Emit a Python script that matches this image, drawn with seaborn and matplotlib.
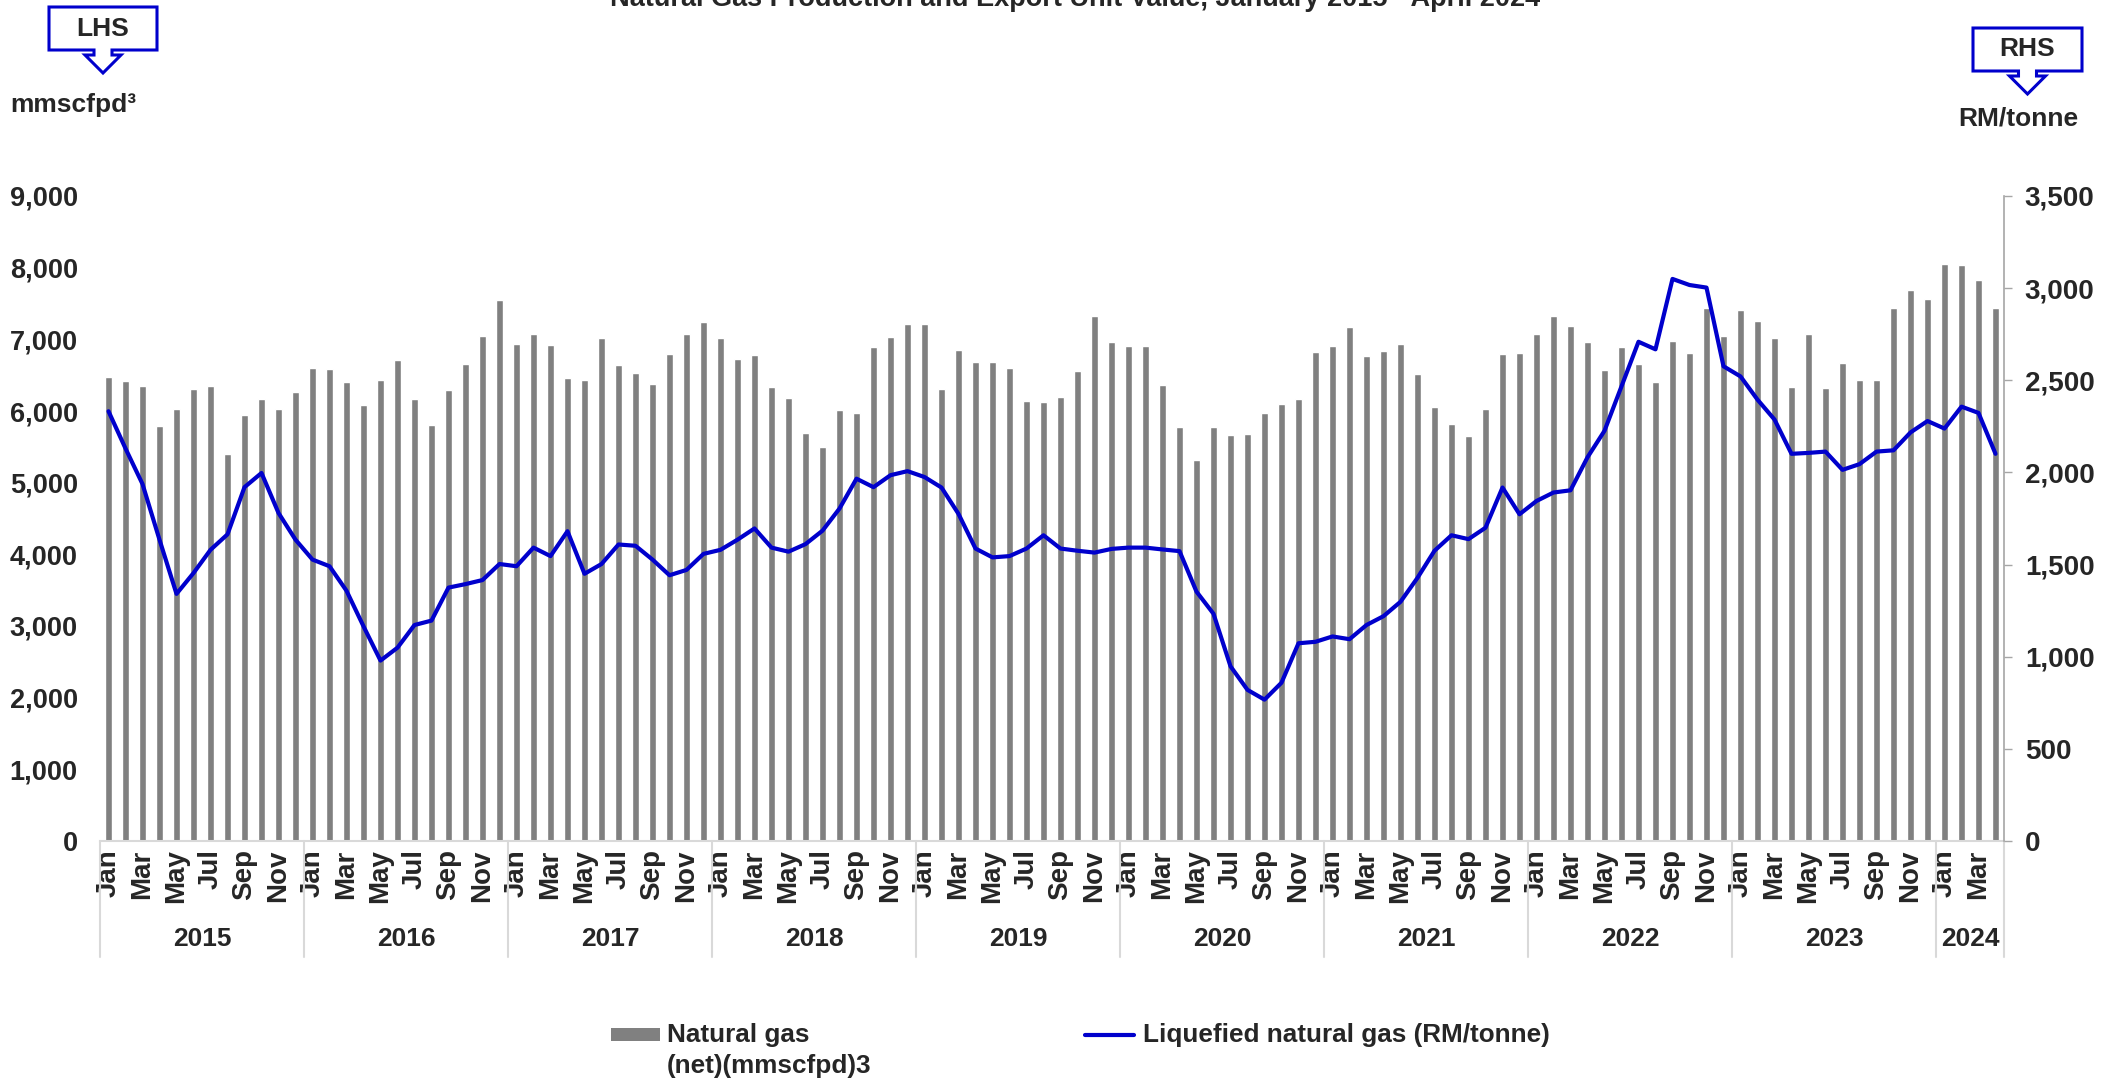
import numpy as np
import matplotlib
matplotlib.use('Agg')
import matplotlib.pyplot as plt
from matplotlib.patches import Polygon, Rectangle
from matplotlib.lines import Line2D
from matplotlib.ticker import FuncFormatter
import seaborn as sns

# ----------------------- Data ------------------------
years = ['2015', '2016', '2017', '2018', '2019', '2020', '2021', '2022', '2023', '2024']
month_names = ['Jan', 'Feb', 'Mar', 'Apr', 'May', 'Jun',
               'Jul', 'Aug', 'Sep', 'Oct', 'Nov', 'Dec']

# Natural gas (net), mmscfpd (LHS)
gas_2015 = [6480, 6414, 6346, 5794, 6024, 6309, 6352, 5397, 5949, 6166, 6030, 6266]
gas_2016 = [6600, 6582, 6402, 6079, 6433, 6712, 6172, 5806, 6290, 6662, 7047, 7550]
gas_2017 = [6929, 7078, 6917, 6464, 6433, 7022, 6644, 6526, 6371, 6793, 7072, 7246]
gas_2018 = [7022, 6731, 6780, 6334, 6179, 5689, 5502, 6011, 5974, 6892, 7029, 7215]
gas_2019 = [7215, 6309, 6849, 6681, 6687, 6600, 6141, 6123, 6197, 6563, 7320, 6966]
gas_2020 = [6905, 6905, 6365, 5775, 5310, 5775, 5670, 5676, 5974, 6104, 6172, 6818]
gas_2021 = [6905, 7171, 6774, 6842, 6929, 6514, 6061, 5819, 5658, 6024, 6793, 6811]
gas_2022 = [7072, 7320, 7184, 6960, 6576, 6898, 6650, 6402, 6973, 6811, 7432, 7047]
gas_2023 = [7407, 7258, 7022, 6334, 7072, 6315, 6675, 6427, 6427, 7444, 7686, 7568]
gas_2024 = [8046, 8040, 7829, 7444]

# Liquefied natural gas unit value, RM/tonne (RHS)
lng_2015 = [2332, 2130, 1937, 1635, 1341, 1454, 1580, 1664, 1920, 1997, 1780, 1635]
lng_2016 = [1527, 1491, 1358, 1165, 979, 1049, 1172, 1196, 1375, 1394, 1416, 1503]
lng_2017 = [1491, 1592, 1546, 1681, 1450, 1503, 1609, 1602, 1527, 1442, 1471, 1558]
lng_2018 = [1580, 1635, 1696, 1592, 1570, 1611, 1684, 1804, 1966, 1920, 1985, 2007]
lng_2019 = [1975, 1918, 1775, 1587, 1539, 1546, 1587, 1659, 1587, 1575, 1565, 1585]
lng_2020 = [1592, 1592, 1582, 1573, 1353, 1233, 948, 820, 767, 859, 1073, 1081]
lng_2021 = [1110, 1095, 1172, 1220, 1298, 1428, 1575, 1659, 1638, 1700, 1918, 1773]
lng_2022 = [1845, 1891, 1903, 2082, 2226, 2467, 2709, 2668, 3050, 3017, 3003, 2576]
lng_2023 = [2521, 2395, 2287, 2101, 2106, 2113, 2014, 2045, 2113, 2120, 2217, 2279]
lng_2024 = [2238, 2357, 2323, 2101]

gas = (gas_2015 + gas_2016 + gas_2017 + gas_2018 + gas_2019 + gas_2020
       + gas_2021 + gas_2022 + gas_2023 + gas_2024)
lng = (lng_2015 + lng_2016 + lng_2017 + lng_2018 + lng_2019 + lng_2020
       + lng_2021 + lng_2022 + lng_2023 + lng_2024)
n = len(gas)
idx = np.arange(n)
months = [month_names[i % 12] for i in range(n)]

# ----------------------- Style ------------------------
sns.set_style('white')
plt.rcParams['font.family'] = ['Liberation Sans', 'DejaVu Sans']
plt.rcParams['font.weight'] = 'bold'

W, H = 2121, 1081
BLUE = '#0000CC'
GREY = '#808080'
FS = 18.5


def fx(px):
    return px / W


def fy(py):
    return 1 - py / H


fig = plt.figure(figsize=(W / 100, H / 100), dpi=100)
ax = fig.add_axes([fx(100), fy(841), fx(1904), 645 / H])

# bars: natural gas
sns.barplot(x=idx, y=gas, ax=ax, color=GREY, saturation=1, width=0.4)
ax.set_ylim(0, 9000)
ax.set_yticks(range(0, 9001, 1000))
ax.yaxis.set_major_formatter(FuncFormatter(lambda v, p: f'{int(v):,}'))
ax.tick_params(axis='y', length=0, pad=16, labelsize=19.5)
ax.set_xticks(idx[::2])
ax.set_xticklabels(months[::2], rotation=90, fontsize=20, fontweight='bold')
ax.tick_params(axis='x', length=0, pad=6)
for lab in ax.get_yticklabels():
    lab.set_fontweight('bold')
for s in ['top', 'left', 'right']:
    ax.spines[s].set_visible(False)
ax.spines['bottom'].set_color('#D9D9D9')
ax.spines['bottom'].set_linewidth(1.5)
ax.set_xlabel('')
ax.set_ylabel('')

# line: LNG unit value
ax2 = ax.twinx()
sns.lineplot(x=idx, y=lng, ax=ax2, color=BLUE, linewidth=3)
ax2.set_ylim(0, 3500)
ax2.set_yticks(range(0, 3501, 500))
ax2.yaxis.set_major_formatter(FuncFormatter(lambda v, p: f'{int(v):,}'))
ax2.tick_params(axis='y', direction='out', length=6, width=1, color='#A6A6A6',
                pad=9, labelsize=20)
for lab in ax2.get_yticklabels():
    lab.set_fontweight('bold')
for s in ['top', 'left', 'bottom']:
    ax2.spines[s].set_visible(False)
ax2.spines['right'].set_color('#A6A6A6')
ax2.spines['right'].set_linewidth(1.2)
ax2.set_xlabel('')
ax2.set_ylabel('')
ax.set_xlim(-0.5, n - 0.5)

# year groups under the month labels
trans = ax.get_xaxis_transform()
bounds = [-0.5] + [12 * k - 0.5 for k in range(1, len(years))] + [n - 0.5]
for b in bounds:
    ax.plot([b, b], [0, -0.18], transform=trans, color='#D9D9D9', lw=1.5,
            clip_on=False)
for k, yr in enumerate(years):
    ax.text((bounds[k] + bounds[k + 1]) / 2, -0.152, yr, transform=trans,
            ha='center', va='center', fontsize=19, fontweight='bold')

# title (runs off the top edge, as in the source)
fig.text(fx(1075), fy(6), 'Natural Gas Production and Export Unit Value, January 2015 - April 2024',
         ha='center', va='baseline', fontsize=FS + 1, fontweight='bold')


# LHS / RHS callouts
def callout(x0, y0, x1, y1, label):
    cx = (x0 + x1) / 2
    pts = [(x0, y0), (x1, y0), (x1, y1), (cx + 9, y1), (cx + 9, y1 + 5),
           (cx + 18, y1 + 5), (cx, y1 + 23), (cx - 18, y1 + 5), (cx - 9, y1 + 5),
           (cx - 9, y1), (x0, y1)]
    poly = Polygon([(fx(a), fy(b)) for a, b in pts], closed=True,
                   transform=fig.transFigure, facecolor='white', edgecolor=BLUE,
                   lw=2.2)
    fig.patches.append(poly)
    fig.text(fx(cx), fy((y0 + y1) / 2), label, ha='center', va='center',
             fontsize=19, fontweight='bold')


callout(49, 7, 157, 50, 'LHS')
callout(1973, 28, 2082, 71, 'RHS')
fig.text(fx(10), fy(105), 'mmscfpd³', ha='left', va='center', fontsize=19,
         fontweight='bold')
fig.text(fx(2018), fy(118), 'RM/tonne', ha='center', va='center', fontsize=19,
         fontweight='bold')

# legend
fig.patches.append(Rectangle((fx(611), fy(1041)), fx(49), 13 / H,
                             transform=fig.transFigure, facecolor=GREY,
                             edgecolor='none'))
fig.text(fx(667), fy(1035), 'Natural gas', ha='left', va='center', fontsize=FS + 0.3,
         fontweight='bold')
fig.text(fx(667), fy(1066), '(net)(mmscfpd)3', ha='left', va='center',
         fontsize=FS + 0.3, fontweight='bold')
fig.lines.append(Line2D([fx(1085), fx(1134)], [fy(1035), fy(1035)],
                        transform=fig.transFigure, color=BLUE, lw=3))
fig.text(fx(1143), fy(1035), 'Liquefied natural gas (RM/tonne)', ha='left',
         va='center', fontsize=FS + 0.3, fontweight='bold')

fig.savefig('out.png', dpi=100)
